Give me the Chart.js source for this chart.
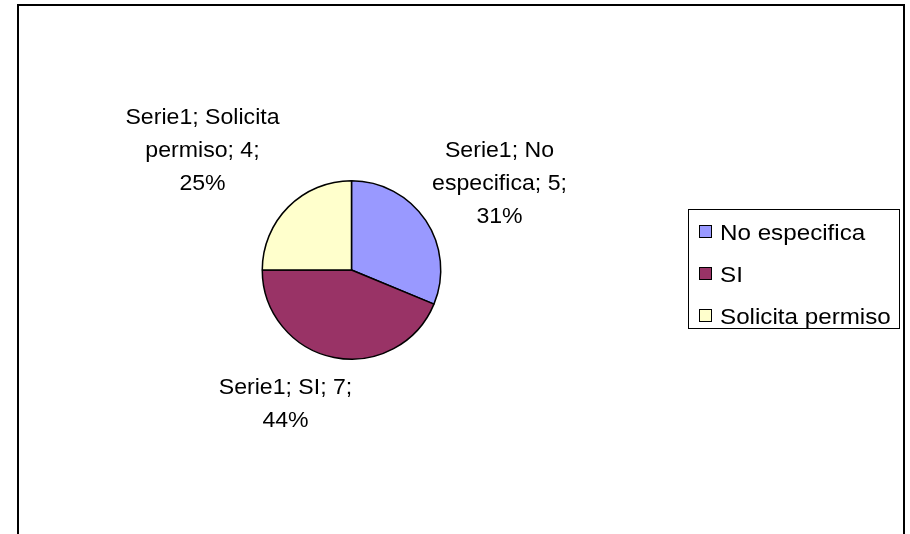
<!DOCTYPE html>
<html>
<head>
<meta charset="utf-8">
<script src="https://cdn.jsdelivr.net/npm/chart.js@4.4.1/dist/chart.umd.min.js"></script>
<style>
  html, body { margin: 0; padding: 0; background: #fff; }
  #wrap { width: 910px; height: 534px; }
</style>
</head>
<body>
<div id="wrap"><canvas id="chart-pie" width="910" height="534"></canvas></div>
<script>
// Pie "Serie1" — Excel-style data labels and boxed legend on the right

const SERIES_NAME = 'Serie1';
const CATEGORIES = ['No especifica', 'SI', 'Solicita permiso'];
const VALUES = [5, 7, 4];
const SLICE_COLORS = ['#9999FF', '#993366', '#FFFFCC'];

// label placement relative to pie centre: [centre x offset, first baseline offset]
const LABEL_POS = [[148, -113], [-66, 124], [-149, -146]];
const FONT = '"Liberation Sans", Arial, sans-serif';

function wrapText(ctx, text, maxWidth) {
  const words = text.split(' ');
  const lines = [];
  let cur = '';
  for (const w of words) {
    const test = cur ? cur + ' ' + w : w;
    if (cur && ctx.measureText(test).width > maxWidth) {
      lines.push(cur);
      cur = w;
    } else {
      cur = test;
    }
  }
  if (cur) lines.push(cur);
  return lines;
}

const excelDecor = {
  id: 'excelDecor',
  beforeDraw(chart) {
    const ctx = chart.ctx;
    ctx.save();
    ctx.fillStyle = '#fff';
    ctx.fillRect(0, 0, chart.width, chart.height);
    ctx.restore();
  },
  afterDraw(chart) {
    const ctx = chart.ctx;
    const meta = chart.getDatasetMeta(0);
    const cx = meta.data[0].x;
    const cy = meta.data[0].y;
    const total = VALUES.reduce((a, b) => a + b, 0);

    // outer frame
    ctx.save();
    ctx.strokeStyle = '#000';
    ctx.lineWidth = 2;
    ctx.strokeRect(18, 5, 886, 600);
    ctx.restore();

    // data labels
    ctx.save();
    ctx.fillStyle = '#000';
    ctx.font = '22px ' + FONT;
    ctx.textAlign = 'center';
    ctx.textBaseline = 'alphabetic';
    VALUES.forEach((v, i) => {
      const pct = Math.round(v / total * 100);
      const text = `${SERIES_NAME}; ${CATEGORIES[i]}; ${v}; ${pct}%`;
      const lines = wrapText(ctx, text, 152);
      const [dx, dy] = LABEL_POS[i];
      lines.forEach((ln, k) => {
        ctx.save();
        ctx.translate(cx + dx, cy + dy + k * 33);
        ctx.scale(1.05, 1);
        ctx.fillText(ln, 0, 0);
        ctx.restore();
      });
    });
    ctx.restore();

    // legend box
    const lx = 688, ly = 209, lw = 211, lh = 119;
    ctx.save();
    ctx.fillStyle = '#fff';
    ctx.fillRect(lx, ly, lw, lh);
    ctx.strokeStyle = '#000';
    ctx.lineWidth = 1;
    ctx.strokeRect(lx + 0.5, ly + 0.5, lw, lh);
    ctx.font = '22px ' + FONT;
    ctx.textBaseline = 'alphabetic';
    CATEGORIES.forEach((c, i) => {
      const sy = 225 + i * 42;
      ctx.fillStyle = SLICE_COLORS[i];
      ctx.fillRect(699.5, sy + 0.5, 12, 12);
      ctx.strokeStyle = '#000';
      ctx.strokeRect(699.5, sy + 0.5, 12, 12);
      ctx.fillStyle = '#000';
      ctx.save();
      ctx.translate(720, sy + 15);
      ctx.scale(1.1, 1);
      ctx.fillText(c, 0, 0);
      ctx.restore();
    });
    ctx.restore();
  },
};

new Chart(document.getElementById('chart-pie'), {
  type: 'pie',
  data: {
    labels: CATEGORIES,
    datasets: [{
      label: SERIES_NAME,
      data: VALUES,
      backgroundColor: SLICE_COLORS,
      borderColor: '#000',
      borderWidth: 1.5,
    }],
  },
  options: {
    responsive: false,
    animation: false,
    layout: { padding: { left: 261, right: 468, top: 180, bottom: 174 } },
    plugins: {
      legend: { display: false },
      tooltip: { enabled: false },
    },
  },
  plugins: [excelDecor],
});
</script>
</body>
</html>
